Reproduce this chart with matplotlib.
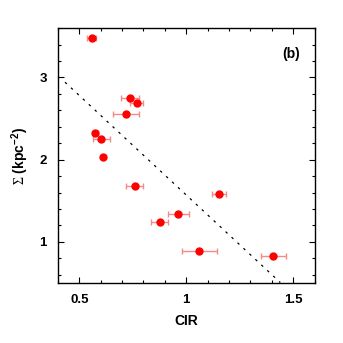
import numpy as np
import matplotlib
matplotlib.use('Agg')
import matplotlib.pyplot as plt
from matplotlib.ticker import MultipleLocator

plt.rcParams['font.family'] = ['Liberation Sans', 'DejaVu Sans']
plt.rcParams['mathtext.fontset'] = 'custom'
plt.rcParams['mathtext.rm'] = 'Liberation Serif'
plt.rcParams['mathtext.bf'] = 'Liberation Sans:bold'

# values
cir = [0.558, 0.737, 0.769, 0.719, 0.575, 0.602, 0.612, 0.758, 1.152, 0.963, 0.875, 1.061, 1.408]
cir_err = [0.02, 0.04, 0.03, 0.06, 0.01, 0.04, 0.0, 0.04, 0.032, 0.05, 0.04, 0.083, 0.06]
sigma = [3.48, 2.75, 2.69, 2.56, 2.33, 2.25, 2.03, 1.68, 1.58, 1.34, 1.24, 0.89, 0.83]

fit_x = [0.433, 1.44]
fit_slope = -2.42
fit_icpt = 3.99

fig = plt.figure(figsize=(3.43, 3.43), dpi=100)
ax = fig.add_axes([0.169, 0.175, 0.748, 0.743])

fx = np.array(fit_x)
ax.plot(fx, fit_icpt + fit_slope * fx, color='black', lw=0.9, dashes=(2, 4.5))

ax.errorbar(cir, sigma, xerr=cir_err, fmt='o', color='red', ms=5,
            ecolor='#f58a8a', elinewidth=1.0, capsize=2.5, capthick=1.0)

ax.set_xlim(0.4, 1.6)
ax.set_ylim(0.5, 3.6)
ax.xaxis.set_major_locator(MultipleLocator(0.5))
ax.xaxis.set_minor_locator(MultipleLocator(0.1))
ax.yaxis.set_major_locator(MultipleLocator(1))
ax.yaxis.set_minor_locator(MultipleLocator(0.2))
ax.set_xticks([0.5, 1.0, 1.5])
ax.set_xticklabels(['0.5', '1', '1.5'])
ax.tick_params(which='both', direction='in', top=True, right=True, width=0.8)
ax.tick_params(which='major', length=4, labelsize=9.5, pad=8)
ax.tick_params(which='minor', length=2)
for lab in ax.get_xticklabels() + ax.get_yticklabels():
    lab.set_fontweight('bold')
for sp in ax.spines.values():
    sp.set_linewidth(1.0)

ax.set_xlabel('CIR', fontsize=10, fontweight='bold', labelpad=6)
ax.set_ylabel(r'$\Sigma$ (kpc$^{\mathbf{-2}}$)', fontsize=10, fontweight='bold', labelpad=6)
ax.text(0.91, 0.9, '(b)', transform=ax.transAxes, fontsize=10, fontweight='bold',
        ha='center', va='center')

fig.savefig('out.png', dpi=100)
